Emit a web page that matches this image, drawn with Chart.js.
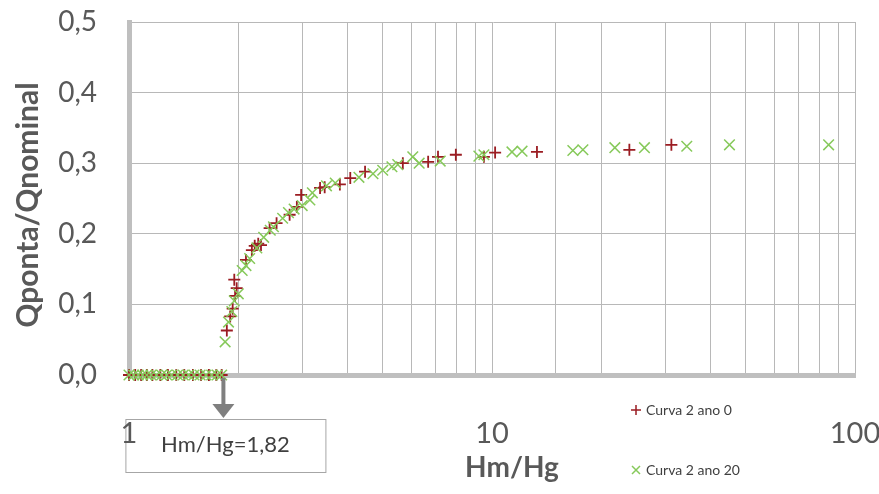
<!DOCTYPE html>
<html>
<head>
<meta charset="utf-8">
<script src="https://cdn.jsdelivr.net/npm/chart.js"></script>
<style>
  html, body { margin: 0; padding: 0; background: #fff; }
  #wrap { width: 879px; height: 494px; }
</style>
</head>
<body>
<div id="wrap"><canvas id="chart"></canvas></div>
<script>
// Curva 2 ano 0 (red +)
const ano0X = [1.0, 1.04, 1.08, 1.12, 1.16, 1.22, 1.28, 1.35, 1.42, 1.5, 1.58, 1.66, 1.74, 1.8,
    1.86, 1.9, 1.93, 1.96, 1.98, 1.95, 2.1, 2.18, 2.22, 2.27, 2.31, 2.44, 2.55, 2.77, 2.9, 2.98,
    3.36, 3.46, 3.81, 4.07, 4.47, 5.68, 6.67, 7.1, 7.95, 9.5, 10.2, 13.3, 23.9, 31.2];
const ano0Y = [0, 0, 0, 0, 0, 0, 0, 0, 0, 0, 0, 0, 0, 0,
    0.063, 0.083, 0.094, 0.112, 0.123, 0.135, 0.163, 0.177, 0.183, 0.186, 0.184, 0.208, 0.215, 0.227, 0.238, 0.255,
    0.265, 0.266, 0.270, 0.279, 0.288, 0.300, 0.302, 0.309, 0.312, 0.309, 0.315, 0.316, 0.319, 0.326];

// Curva 2 ano 20 (green x)
const ano20X = [1.0, 1.03, 1.06, 1.09, 1.12, 1.15, 1.19, 1.23, 1.27, 1.31, 1.36, 1.41, 1.46, 1.51, 1.57, 1.63, 1.69, 1.75, 1.8,
    1.84, 1.88, 1.92, 1.95, 2.0, 2.05, 2.1, 2.15, 2.25, 2.35, 2.45, 2.5, 2.65, 2.75, 2.85, 3.0, 3.15, 3.2,
    3.5, 3.7, 4.3, 4.7, 5.0, 5.3, 5.5, 6.05, 6.3, 7.2, 9.2, 9.5, 11.35, 12.1, 16.7, 17.8, 21.8, 26.3, 34.4, 45.1, 84.6];
const ano20Y = [0, 0, 0, 0, 0, 0, 0, 0, 0, 0, 0, 0, 0, 0, 0, 0, 0, 0, 0,
    0.047, 0.075, 0.09, 0.105, 0.115, 0.148, 0.155, 0.165, 0.18, 0.195, 0.205, 0.21, 0.222, 0.23, 0.235, 0.24, 0.248, 0.258,
    0.268, 0.272, 0.28, 0.285, 0.29, 0.295, 0.298, 0.309, 0.30, 0.303, 0.31, 0.312, 0.316, 0.317, 0.318, 0.319, 0.322, 0.322, 0.324, 0.326, 0.326];

const xLabels = [1, 10, 100];
const yTicks = [0, 0.1, 0.2, 0.3, 0.4, 0.5];
const limitValue = 1.82;
const limitText = 'Hm/Hg=1,82';

const redColor = '#9b1c22';
const greenColor = '#86c95a';
const textColor = '#595959';
const fontFamily = 'Lato, "Open Sans", sans-serif';

function toPoints(xs, ys) {
    return xs.map((x, i) => ({ x: x, y: ys[i] }));
}

// extras: annotation box/arrow, legend, axis titles
const extras = {
    id: 'extras',
    beforeDraw(chart) {
        const ctx = chart.ctx;
        const xs = chart.scales.x;
        const cx = xs.getPixelForValue(limitValue);
        ctx.save();
        ctx.fillStyle = '#fff';
        ctx.strokeStyle = '#a6a6a6';
        ctx.lineWidth = 1;
        ctx.fillRect(cx - 98, 419, 200, 53);
        ctx.strokeRect(cx - 98 + 0.5, 419.5, 200, 53);
        ctx.fillStyle = '#404040';
        ctx.font = '22px ' + fontFamily;
        ctx.textAlign = 'center';
        ctx.textBaseline = 'middle';
        ctx.fillText(limitText, cx + 2, 445);
        ctx.restore();
    },
    afterDraw(chart) {
        const ctx = chart.ctx;
        const xs = chart.scales.x;
        const ys = chart.scales.y;
        const cx = xs.getPixelForValue(limitValue);
        const y0 = ys.getPixelForValue(0);
        ctx.save();
        // arrow
        ctx.strokeStyle = '#7f7f7f';
        ctx.fillStyle = '#7f7f7f';
        ctx.lineWidth = 4;
        ctx.beginPath();
        ctx.moveTo(cx, y0 + 3);
        ctx.lineTo(cx, 406);
        ctx.stroke();
        ctx.beginPath();
        ctx.moveTo(cx - 11, 404);
        ctx.lineTo(cx + 11, 404);
        ctx.lineTo(cx, 418);
        ctx.closePath();
        ctx.fill();

        // legend
        ctx.lineWidth = 1.5;
        ctx.strokeStyle = redColor;
        ctx.beginPath();
        ctx.moveTo(631, 410); ctx.lineTo(641, 410);
        ctx.moveTo(636, 405); ctx.lineTo(636, 415);
        ctx.stroke();
        ctx.strokeStyle = greenColor;
        ctx.beginPath();
        ctx.moveTo(632, 466); ctx.lineTo(640, 474);
        ctx.moveTo(640, 466); ctx.lineTo(632, 474);
        ctx.stroke();
        ctx.fillStyle = '#404040';
        ctx.font = '14px ' + fontFamily;
        ctx.textAlign = 'left';
        ctx.textBaseline = 'middle';
        ctx.fillText('Curva 2 ano 0', 646, 410);
        ctx.fillText('Curva 2 ano 20', 646, 470);

        // axis titles
        ctx.fillStyle = textColor;
        ctx.font = 'bold 28px ' + fontFamily;
        ctx.textAlign = 'center';
        ctx.fillText('Hm/Hg', 512, 468);
        ctx.translate(28, 205);
        ctx.rotate(-Math.PI / 2);
        ctx.font = 'bold 30px ' + fontFamily;
        ctx.fillText('Qponta/Qnominal', 0, 0);
        ctx.restore();
    }
};

const ctx = document.getElementById('chart').getContext('2d');
const chart = new Chart(ctx, {
    type: 'scatter',
    data: {
        datasets: [{
            label: 'Curva 2 ano 0',
            data: toPoints(ano0X, ano0Y),
            pointStyle: 'cross',
            radius: 6,
            borderWidth: 1.8,
            borderColor: redColor,
            backgroundColor: redColor,
            clip: false,
            order: 2
        }, {
            label: 'Curva 2 ano 20',
            data: toPoints(ano20X, ano20Y),
            pointStyle: 'crossRot',
            radius: 7.5,
            borderWidth: 1.5,
            borderColor: greenColor,
            backgroundColor: greenColor,
            clip: false,
            order: 1
        }]
    },
    options: {
        responsive: true,
        maintainAspectRatio: false,
        animation: false,
        layout: {
            padding: { left: 0, right: 24, top: 22, bottom: 0 }
        },
        scales: {
            x: {
                type: 'logarithmic',
                min: 1,
                max: 100,
                border: { width: 5, color: '#bfbfbf' },
                grid: { color: '#b8b8b8', lineWidth: 1, drawTicks: false },
                ticks: {
                    autoSkip: false,
                    maxRotation: 0,
                    padding: 41,
                    color: textColor,
                    font: { family: fontFamily, size: 29 },
                    callback: function(value) {
                        return xLabels.includes(value) ? String(value) : '';
                    }
                },
                afterFit: function(scale) {
                    scale.height = 119;
                    scale.paddingLeft = 0;
                    scale.paddingRight = 0;
                }
            },
            y: {
                min: 0,
                max: 0.5,
                afterBuildTicks: function(scale) {
                    scale.ticks = yTicks.map(v => ({ value: v }));
                },
                border: { width: 5, color: '#bfbfbf' },
                grid: { color: '#b8b8b8', lineWidth: 1, drawTicks: false },
                ticks: {
                    padding: 32,
                    color: textColor,
                    font: { family: fontFamily, size: 28 },
                    callback: function(value) {
                        return value.toFixed(1).replace('.', ',');
                    }
                },
                afterFit: function(scale) {
                    scale.width = 129;
                    scale.paddingTop = 0;
                    scale.paddingBottom = 0;
                }
            }
        },
        plugins: {
            legend: { display: false },
            tooltip: { enabled: false }
        }
    },
    plugins: [extras]
});
</script>
</body>
</html>
